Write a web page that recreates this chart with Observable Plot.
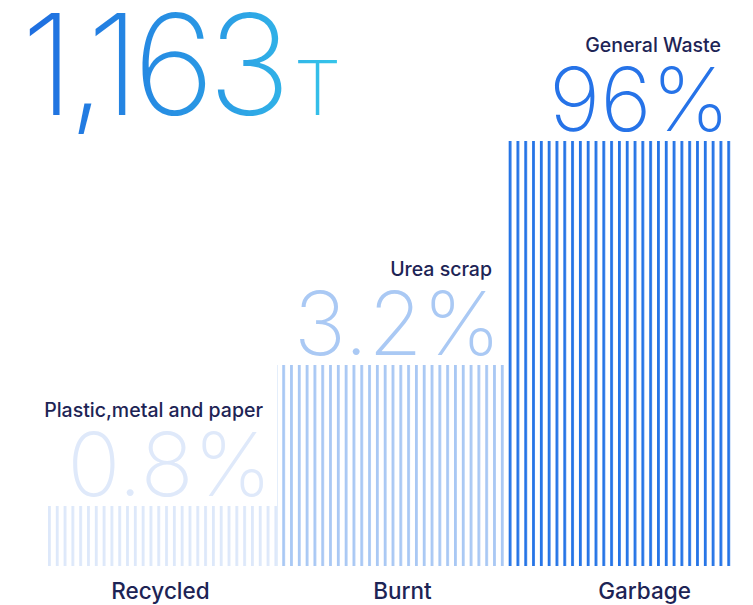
<!DOCTYPE html>
<html><head><meta charset="utf-8">
<script src="https://cdn.jsdelivr.net/npm/d3@7"></script>
<script src="https://cdn.jsdelivr.net/npm/@observablehq/plot@0.6"></script>
<style>
body{margin:0;background:#fff;}
#wrap{position:relative;width:753px;height:605px;overflow:hidden;}
#title{position:absolute;left:21px;top:-6px;font-family:Inter,sans-serif;font-weight:150;line-height:1;white-space:nowrap;
 background:linear-gradient(90deg,#1e6ce0 0%,#2a9ae4 60%,#36c6ea 100%);-webkit-background-clip:text;background-clip:text;color:transparent;}
#title .num{font-size:140px;letter-spacing:-7px}
#title .unit{font-size:76px;margin-left:10px}
svg{display:block}
</style></head><body><div id="wrap"><div id="title"></div></div>
<script>
const categories = ["Recycled", "Burnt", "Garbage"];
const shares = [0.8, 3.2, 96];
const subLabels = ["Plastic,metal and paper", "Urea scrap", "General Waste"];
const barColors = ["#dde8fa", "#a9c8f4", "#2574e6"];
const numColors = ["#dfe9fa", "#aac9f4", "#2673e8"];
const totalWaste = 1163;
const totalUnit = "T";

const rows = categories.map((c, i) => ({
  category: c, value: shares[i], label: subLabels[i],
  stripe: `url(#stripe-${i})`, color: numColors[i]
}));

// stylised (non-proportional) bar heights: piecewise mapping of shares to levels
const level = d3.scaleLinear().domain([0, 0.8, 3.2, 96]).range([0, 60, 201, 425]);

const main = Plot.plot({
  width: 753, height: 572, margin: 0,
  x: {type: "band", domain: categories, range: [48, 735.5], padding: 0, axis: null},
  y: {transform: level, domain: [0, 425], range: [566, 141], axis: null},
  color: {type: "identity"},
  marks: [
    Plot.barY(rows, {x: "category", y: "value", fill: "stripe"}),
    Plot.text(rows, {x: "category", y: "value", text: d => d.value + "%", fill: "color", ariaLabel: "share",
      textAnchor: "end", lineAnchor: "bottom", dx: 109, dy: -11, fontSize: 88, fontWeight: 150, fontFamily: "Inter, sans-serif"}),
    Plot.text(rows, {x: "category", y: "value", text: "label", fill: "#1d2455", ariaLabel: "sublabel",
      textAnchor: "end", lineAnchor: "bottom", dx: 100, dy: -90, fontSize: 19.5, fontWeight: 450, fontFamily: "Inter, sans-serif"})
  ]
});

d3.select(main).selectAll('g[aria-label="share"] text').style("letter-spacing", "-4.5px");

const defs = d3.select(main).insert("defs", ":first-child");
barColors.forEach((c, i) => {
  const p = defs.append("pattern").attr("id", `stripe-${i}`)
    .attr("patternUnits", "userSpaceOnUse").attr("x", 48).attr("y", 0)
    .attr("width", 7.808).attr("height", 20);
  p.append("rect").attr("x", 0).attr("y", 0).attr("width", 2.8).attr("height", 20).attr("fill", c);
});

const axisPlot = Plot.plot({
  width: 753, height: 33, margin: 0,
  x: {type: "band", domain: categories, range: [38.5, 764.5], padding: 0, axis: null},
  marks: [
    Plot.text(categories, {x: d => d, frameAnchor: "bottom", lineAnchor: "bottom", dy: -7,
      fontSize: 22.5, fontWeight: 450, fill: "#1d2455", fontFamily: "Inter, sans-serif"})
  ]
});

const wrap = document.getElementById("wrap");
wrap.appendChild(main);
wrap.appendChild(axisPlot);
document.getElementById("title").innerHTML =
  `<span class="num">${d3.format(",")(totalWaste)}</span><span class="unit">${totalUnit}</span>`;
</script>
</body></html>
